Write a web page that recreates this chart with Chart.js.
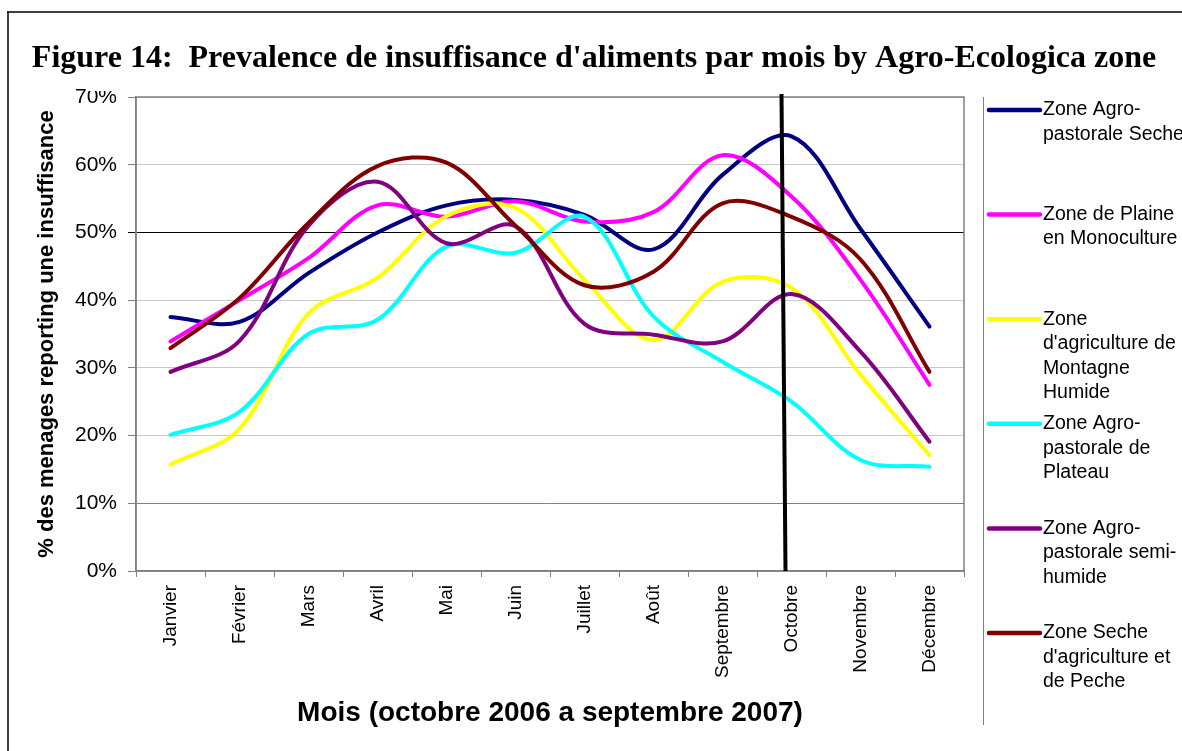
<!DOCTYPE html>
<html>
<head>
<meta charset="utf-8">
<script src="https://cdn.jsdelivr.net/npm/chart.js@4.4.1/dist/chart.umd.min.js"></script>
<style>
  html, body { margin: 0; padding: 0; background: #fff; }
  canvas { display: block; }
</style>
</head>
<body>
<canvas id="foodChart" width="1182" height="751"></canvas>
<script>
const months = ["Janvier", "Février", "Mars", "Avril", "Mai", "Juin", "Juillet", "Août", "Septembre", "Octobre", "Novembre", "Décembre"];

// % des menages reporting une insuffisance, par zone
const agroPastoraleSeche = [37.5, 36.8, 44, 50, 54, 54.8, 52.6, 47.5, 58.5, 64.2, 50.5, 36.1];
const plaineMonoculture = [33.9, 40, 46.2, 54, 52.3, 54.6, 51.6, 53, 61.4, 55.3, 43, 27.5];
const montagneHumide = [15.7, 21, 38, 43.3, 52.4, 53.6, 43, 34.1, 42.7, 41.8, 29, 17.1];
const agroPastoralePlateau = [20.1, 23.5, 35, 37.1, 47.9, 47, 52.3, 37.6, 30.9, 25, 16.4, 15.4];
const agroPastoraleSemiHumide = [29.4, 34, 51, 57.5, 48.4, 50.9, 36.5, 34.9, 33.9, 40.9, 32.4, 19.1];
const secheAgriculturePeche = [32.9, 40.3, 51.4, 59.8, 60.3, 51, 42.2, 44.2, 54.3, 52.3, 46, 29.4];

const zoneLabels = [
	["Zone Agro-", "pastorale Seche"],
	["Zone de Plaine", "en Monoculture"],
	["Zone", "d'agriculture de", "Montagne", "Humide"],
	["Zone Agro-", "pastorale de", "Plateau"],
	["Zone Agro-", "pastorale semi-", "humide"],
	["Zone Seche", "d'agriculture et", "de Peche"],
];
const zoneColours = ["#000080", "#ff00ff", "#ffff00", "#00ffff", "#800080", "#800000"];
const zoneValues = [agroPastoraleSeche, plaineMonoculture, montagneHumide, agroPastoralePlateau, agroPastoraleSemiHumide, secheAgriculturePeche];

const markedMonth = "Octobre"; // thick black line
const sans = "'Liberation Sans', Arial, sans-serif";

Chart.defaults.font.family = sans;
Chart.defaults.color = "#000";

const dataSets = zoneValues.map((values, i) => ({
	label: zoneLabels[i].join(" "),
	data: values,
	yAxisID: "y",
	borderColor: zoneColours[i],
	backgroundColor: zoneColours[i],
	borderWidth: 4,
	pointRadius: 0,
	tension: 0.35,
	fill: false,
	borderCapStyle: "round",
	borderJoinStyle: "round",
	order: zoneValues.length - i, // last series on top, like the original
}));

const decorations = {
	id: "decorations",
	beforeDraw(chart) {
		const c = chart.ctx;
		c.save();
		c.fillStyle = "#fff";
		c.fillRect(0, 0, chart.width, chart.height);
		c.restore();
	},
	beforeDatasetsDraw(chart) {
		const { ctx: c, chartArea: a } = chart;
		c.save();
		c.strokeStyle = "#808080";
		c.lineWidth = 1.5;
		c.strokeRect(a.left, a.top, a.right - a.left, a.bottom - a.top);
		c.restore();
	},
	afterDatasetsDraw(chart) {
		const { ctx: c, chartArea: a } = chart;
		const xm = chart.scales.x.getPixelForValue(months.indexOf(markedMonth));
		c.save();
		c.strokeStyle = "#000";
		c.lineWidth = 4;
		c.beginPath();
		c.moveTo(xm - 10, a.top - 3);
		c.lineTo(xm - 6, a.bottom);
		c.stroke();
		c.restore();
	},
	afterDraw(chart) {
		const { ctx: c, chartArea: a } = chart;
		c.save();
		// hide top of the 70% label, as in the original
		c.fillStyle = "#fff";
		c.fillRect(a.left - 48, a.top - 20, 40, 14);

		// outer frame (top and left)
		c.strokeStyle = "#000";
		c.lineWidth = 1.5;
		c.beginPath();
		c.moveTo(7, 12);
		c.lineTo(chart.width, 12);
		c.moveTo(8, 12);
		c.lineTo(8, chart.height);
		c.stroke();

		// legend separator
		c.strokeStyle = "#808080";
		c.lineWidth = 1;
		c.beginPath();
		c.moveTo(a.right + 19.5, a.top);
		c.lineTo(a.right + 19.5, 725);
		c.stroke();

		// legend
		c.font = "19.5px " + sans;
		c.textAlign = "left";
		c.textBaseline = "middle";
		zoneLabels.forEach((lines, i) => {
			const y = a.top + 13 + i * 104.6;
			c.strokeStyle = zoneColours[i];
			c.lineWidth = 4.5;
			c.lineCap = "round";
			c.beginPath();
			c.moveTo(a.right + 25, y);
			c.lineTo(a.right + 76, y);
			c.stroke();
			c.fillStyle = "#000";
			lines.forEach((t, j) => c.fillText(t, a.right + 79, y + j * 24.5));
		});
		c.restore();
	},
};

const config = {
	type: "line",
	data: { labels: months, datasets: dataSets },
	options: {
		responsive: false,
		animation: false,
		events: [],
		layout: { padding: { left: 10, right: 4, top: 0, bottom: 0 } },
		plugins: {
			legend: { display: false },
			tooltip: { enabled: false },
			title: {
				display: true,
				text: "Figure 14:  Prevalence de insuffisance d'aliments par mois by Agro-Ecologica zone",
				font: { family: "'Liberation Serif', 'Times New Roman', serif", size: 32, weight: "bold" },
				color: "#000",
				padding: { top: 40, bottom: 18.6 },
			},
		},
		scales: {
			x: {
				offset: true,
				ticks: {
					autoSkip: false,
					minRotation: 90,
					maxRotation: 90,
					font: { size: 19 },
					color: "#000",
					padding: 8,
				},
				grid: { offset: true, drawOnChartArea: false, tickLength: 6, color: "#808080" },
				border: { color: "#808080", width: 1.5 },
				title: {
					display: true,
					text: "Mois (octobre 2006 a septembre 2007)",
					font: { size: 28, weight: "bold" },
					color: "#000",
					padding: { top: 0, bottom: 21 },
				},
				afterFit: (s) => { s.height = 180; },
			},
			y: {
				position: "left",
				min: 0,
				max: 70,
				ticks: {
					stepSize: 10,
					callback: (v) => v + "%",
					font: { size: 21 },
					color: "#000",
					padding: 11,
				},
				grid: {
					color: (c) => (c.tick.value === 50 ? "#000" : c.tick.value === 10 ? "#808080" : "#c8c8c8"),
					tickColor: (c) => (c.tick.value === 50 ? "#000" : "#808080"),
					tickLength: 8,
					lineWidth: 1,
				},
				border: { color: "#808080", width: 1.5 },
				title: {
					display: true,
					text: "% des menages reporting une insuffisance",
					font: { size: 22, weight: "bold" },
					color: "#000",
					padding: { top: 24, bottom: 0 },
				},
				afterFit: (s) => { s.width = 126; },
			},
			legendSpace: {
				type: "linear",
				position: "right",
				grid: { display: false },
				border: { display: false },
				ticks: { display: false },
				afterFit: (s) => { s.width = 214; },
			},
		},
	},
	plugins: [decorations],
};

const chart = new Chart(document.getElementById("foodChart"), config);
</script>
</body>
</html>
